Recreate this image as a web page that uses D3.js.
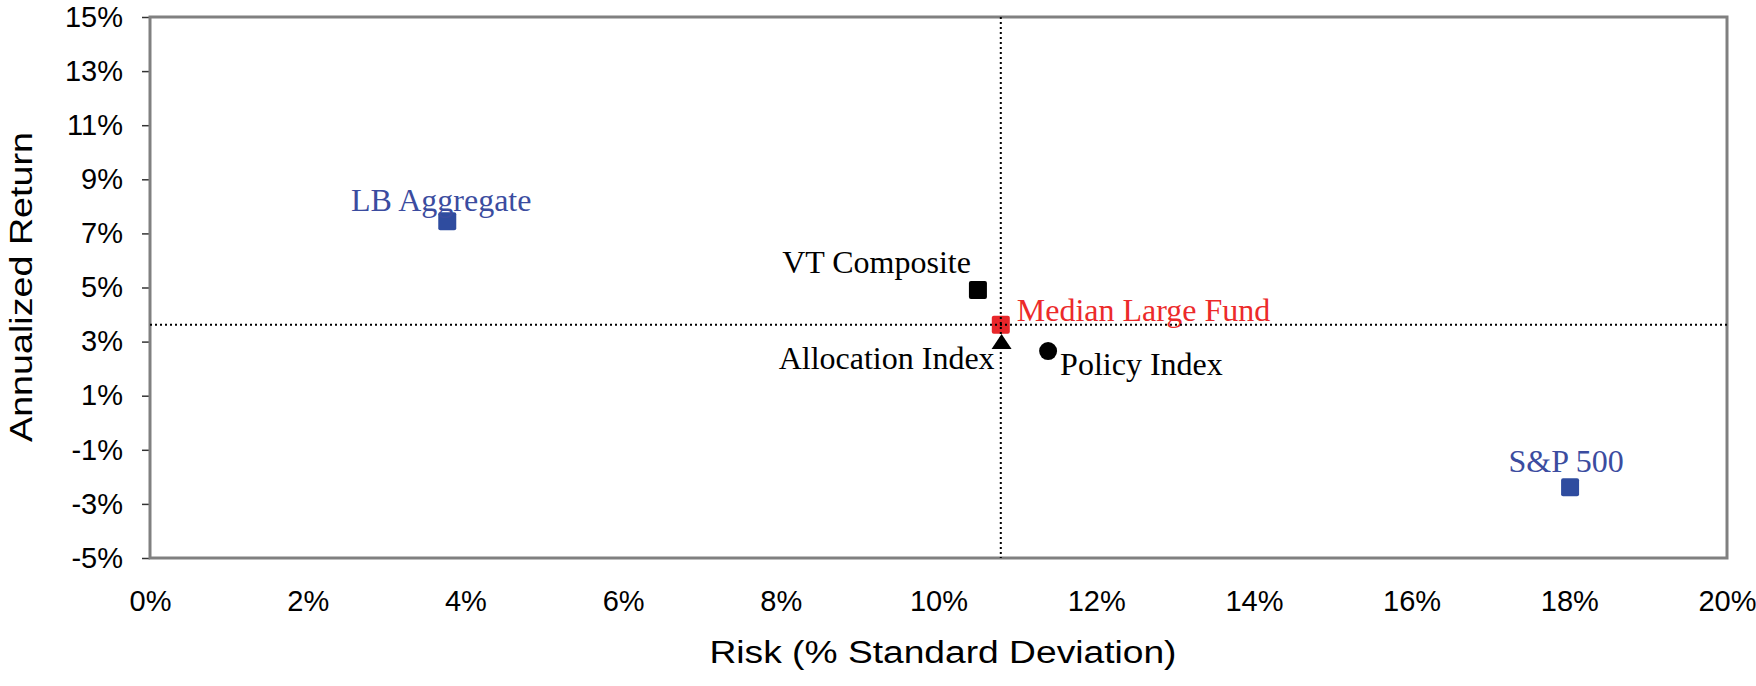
<!DOCTYPE html>
<html>
<head>
<meta charset="utf-8">
<script src="https://cdn.jsdelivr.net/npm/d3@7"></script>
<style>
  body { margin: 0; background: #fff; }
  svg { display: block; }
</style>
</head>
<body>
<svg id="chart" width="1756" height="686"></svg>
<script>
// data
var names = ["LB Aggregate", "S&P 500", "VT Composite", "Median Large Fund", "Allocation Index", "Policy Index"];
var risk = [3.77, 18.01, 10.50, 10.79, 10.80, 11.39];
var ret = [7.45, -2.38, 4.91, 3.62, 3.0, 2.65];
var shapes = ["square", "square", "square", "square", "triangle", "circle"];
var groups = ["bench", "bench", "fund", "median", "fund", "fund"];
var xTicks = [0, 2, 4, 6, 8, 10, 12, 14, 16, 18, 20];
var yTicks = [-5, -3, -1, 1, 3, 5, 7, 9, 11, 13, 15];

var color = { bench: "#2f4c9f", fund: "#000000", median: "#e8262a" };
var textColor = { bench: "#3b4c9f", fund: "#000000", median: "#ec2a2a" };
// label placement relative to marker (px)
var labelPos = {
  "LB Aggregate": [-6, -10, "middle"],
  "S&P 500": [-4, -15, "middle"],
  "VT Composite": [-7, -17, "end"],
  "Median Large Fund": [16, -4, "start"],
  "Allocation Index": [-7, 27, "end"],
  "Policy Index": [12, 24, "start"]
};

var plotL = 150, plotR = 1727, plotT = 17, plotB = 558;
var svg = d3.select("#chart");

var x = d3.scaleLinear().domain([0, 20]).range([plotL, plotR]);
var y = d3.scaleLinear().domain([-5, 15]).range([plotB, plotT]);

// y axis
var yAxis = svg.append("g")
  .attr("transform", "translate(" + plotL + ",0)")
  .call(d3.axisLeft(y).tickValues(yTicks).tickSize(8).tickPadding(19)
    .tickFormat(function(d) { return d + "%"; }));
yAxis.select(".domain").remove();
yAxis.selectAll("line").attr("stroke", "#333").attr("stroke-width", 1.5);
yAxis.selectAll("text")
  .attr("font-family", "Liberation Sans, Arial, sans-serif")
  .attr("font-size", 29).attr("fill", "#000");

// x axis
var xAxis = svg.append("g")
  .attr("transform", "translate(0," + plotB + ")")
  .call(d3.axisBottom(x).tickValues(xTicks).tickSize(0)
    .tickFormat(function(d) { return d + "%"; }));
xAxis.select(".domain").remove();
xAxis.selectAll("text")
  .attr("y", 53).attr("dy", null)
  .attr("font-family", "Liberation Sans, Arial, sans-serif")
  .attr("font-size", 29).attr("fill", "#000");

// frame
svg.append("rect")
  .attr("x", plotL).attr("y", plotT)
  .attr("width", plotR - plotL).attr("height", plotB - plotT)
  .attr("fill", "none").attr("stroke", "#808080").attr("stroke-width", 3);

// axis titles
svg.append("text")
  .attr("x", 943).attr("y", 663)
  .attr("text-anchor", "middle")
  .attr("font-family", "Liberation Sans, Arial, sans-serif")
  .attr("font-size", 31)
  .attr("textLength", 467).attr("lengthAdjust", "spacingAndGlyphs")
  .text("Risk (% Standard Deviation)");

svg.append("text")
  .attr("transform", "translate(32,287) rotate(-90)")
  .attr("text-anchor", "middle")
  .attr("font-family", "Liberation Sans, Arial, sans-serif")
  .attr("font-size", 31)
  .attr("textLength", 310).attr("lengthAdjust", "spacingAndGlyphs")
  .text("Annualized Return");

var pts = names.map(function(n, i) {
  return { name: n, risk: risk[i], ret: ret[i], shape: shapes[i], group: groups[i] };
});

var triangle = {
  draw: function(ctx, size) {
    ctx.moveTo(0, -7.5);
    ctx.lineTo(10, 7.5);
    ctx.lineTo(-10, 7.5);
    ctx.closePath();
  }
};

var marks = svg.append("g");
pts.forEach(function(d) {
  var cx = x(d.risk), cy = y(d.ret);
  if (d.shape === "square") {
    marks.append("rect")
      .attr("x", cx - 9).attr("y", cy - 9)
      .attr("width", 18).attr("height", 18).attr("rx", 2)
      .attr("fill", color[d.group]);
  } else if (d.shape === "circle") {
    marks.append("circle")
      .attr("cx", cx).attr("cy", cy).attr("r", 9)
      .attr("fill", color[d.group]);
  } else {
    marks.append("path")
      .attr("transform", "translate(" + cx + "," + cy + ")")
      .attr("d", d3.symbol().type(triangle)())
      .attr("fill", color[d.group]);
  }
});

// labels
svg.append("g").selectAll("text")
  .data(pts)
  .enter()
  .append("text")
  .attr("x", function(d) { return x(d.risk) + labelPos[d.name][0]; })
  .attr("y", function(d) { return y(d.ret) + labelPos[d.name][1]; })
  .attr("text-anchor", function(d) { return labelPos[d.name][2]; })
  .attr("font-family", "Liberation Serif, Times New Roman, serif")
  .attr("font-size", 32)
  .attr("fill", function(d) { return textColor[d.group]; })
  .text(function(d) { return d.name; });

// median cross lines
var med = pts[names.indexOf("Median Large Fund")];
svg.append("line")
  .attr("x1", plotL).attr("x2", plotR)
  .attr("y1", y(med.ret)).attr("y2", y(med.ret))
  .attr("stroke", "#000").attr("stroke-width", 2).attr("stroke-dasharray", "2,3");
svg.append("line")
  .attr("x1", x(med.risk)).attr("x2", x(med.risk))
  .attr("y1", plotT).attr("y2", plotB)
  .attr("stroke", "#000").attr("stroke-width", 2).attr("stroke-dasharray", "2,3");
</script>
</body>
</html>
